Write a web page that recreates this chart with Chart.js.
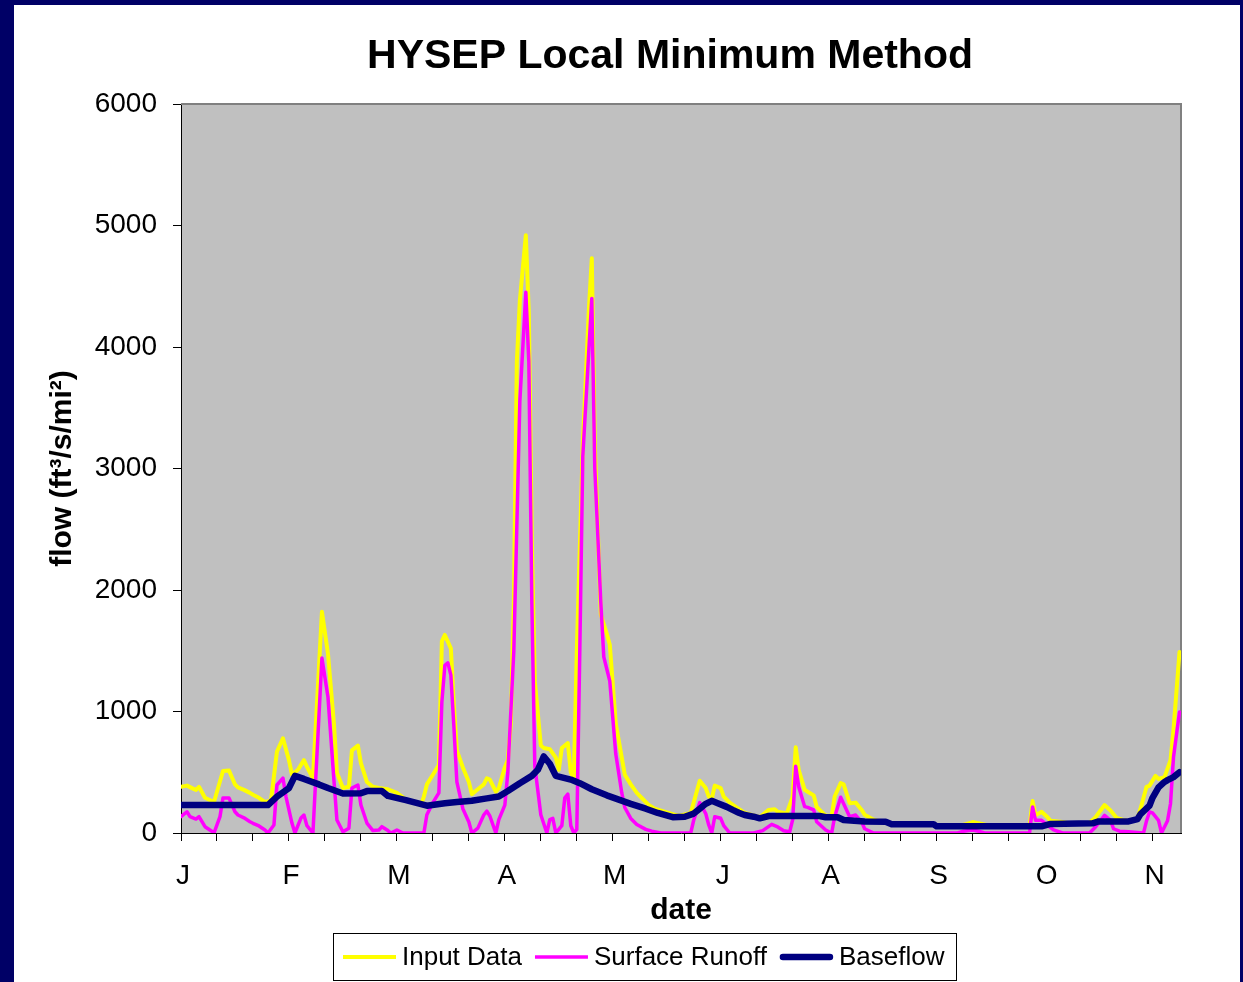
<!DOCTYPE html>
<html><head><meta charset="utf-8">
<script src="https://cdn.jsdelivr.net/npm/chart.js@4.4.1/dist/chart.umd.min.js"></script>
<style>
html,body{margin:0;padding:0;background:#000066;width:1243px;height:982px;overflow:hidden;}
#panel{position:absolute;left:14px;top:5px;width:1226px;height:977px;background:#ffffff;}
#c{position:absolute;left:0;top:0;}
</style></head><body>
<div id="panel"></div>
<canvas id="c" width="1243" height="982"></canvas>
<script>
// ---------- text ----------
const chartTitle = 'HYSEP Local Minimum Method';
const xAxisTitle = 'date';
const yAxisTitle = 'flow (ft³/s/mi²)';
const seriesNames = ['Input Data', 'Surface Runoff', 'Baseflow'];

// ---------- x axis (day index from 1 Jan) ----------
const tickLabels = ['J','F','M','A','M','J','A','S','O','N'];
const labelEveryDays = 36;
const tickEveryDays = 12;
const lastDay = 333.5;
const yTickValues = [0,1000,2000,3000,4000,5000,6000];

// ---------- series ----------
const inputDays = [0,2,4,5,6,8,11,14,16,18,19,21,23,24,26,28,30,32,34,36,37,39,41,42,44,47,49,51,52,54,56,57,59,60,62,64,66,69,72,75,80,81,82,84,86,87,88,90,91,92,94,96,97,99,101,102,103,105,106,108,109,110,111,112,113,115,116,117,118,120,121,123,125,126,127,129,130,131,132,134,136,137,138,140,142,143,145,147,148,150,152,154,156,158,162,166,170,173,175,176,177,178,180,181,183,185,188,193,194,196,198,199,202,204,205,206,208,209,211,212,213,215,217,218,220,221,223,225,227,228,231,233,237,251,252,259,262,264,266,269,271,283,284,285,287,289,290,294,296,303,305,308,310,312,314,316,319,320,322,323,325,326,328,330,331,332,333];
const inputFlow = [380,390,365,355,380,290,255,510,515,400,375,355,330,315,290,255,265,670,780,600,480,520,600,545,450,1820,1480,900,495,370,380,680,720,575,420,380,370,360,330,275,230,300,400,480,560,1580,1630,1520,1050,680,540,420,320,360,400,450,440,340,370,540,600,900,1900,3880,4380,4920,4280,2400,1250,720,700,690,620,520,700,740,500,450,1500,3200,4300,4730,3200,1800,1640,1550,900,620,480,400,330,280,230,200,170,140,165,430,370,300,280,390,370,300,250,215,165,130,150,190,195,175,160,300,705,520,355,340,310,215,190,145,140,300,410,400,245,250,190,150,110,95,80,72,55,55,75,90,80,65,55,55,263,145,175,130,100,90,80,85,130,230,185,125,110,100,120,200,380,390,470,445,460,600,850,1170,1490];

const runoffDays = [0,2,3,5,6,8,10,11,13,14,16,18,19,21,23,24,26,28,29,31,32,34,35,37,38,40,41,42,44,47,49,51,52,54,56,57,59,60,62,64,66,67,69,70,72,74,81,82,84,86,87,88,89,90,91,92,94,96,97,99,101,102,103,105,106,108,109,111,113,114,115,116,117,118,120,122,123,124,125,127,128,129,130,131,132,133,134,137,138,140,141,142,143,145,147,148,150,152,155,157,160,170,171,173,175,176,177,178,180,181,183,191,194,197,199,201,203,204,205,206,208,209,211,212,215,217,218,220,221,223,225,227,228,231,259,261,264,266,268,283,284,285,287,289,291,294,303,304,305,308,310,311,313,316,321,322,323,324,326,327,329,330,331,333];
const runoffFlow = [135,175,135,115,135,52,19,0,135,288,288,175,148,125,93,80,58,25,0,66,395,452,300,82,0,123,148,60,0,1440,1122,436,107,10,40,370,395,230,82,20,25,52,20,0,25,0,0,150,250,330,1080,1380,1400,1300,880,420,200,90,0,40,150,180,140,0,110,230,500,1500,3550,4000,4450,3880,1900,550,150,0,110,120,0,60,290,320,60,0,30,1500,3100,4400,3000,1900,1450,1350,1250,650,330,210,120,70,30,15,0,0,107,250,160,66,0,134,121,60,0,0,20,71,50,18,10,110,550,380,217,211,190,93,25,0,134,294,240,134,148,90,35,0,0,15,25,15,0,0,214,104,104,63,25,0,0,25,49,145,104,35,15,10,0,100,173,165,104,0,100,241,625,996];

const baseDays = [0,29,32,36,38,41,46,49,54,60,62,67,69,75,82,88,92,97,102,106,109,113,117,119,121,123,125,130,133,137,142,146,150,155,159,164,168,171,173,175,177,179,182,184,186,188,191,193,196,213,215,219,221,228,235,237,251,252,287,290,304,306,316,319,320,323,324,326,328,329,331,333];
const baseFlow = [230,230,300,370,470,445,400,370,325,327,345,345,305,270,225,245,255,265,285,300,345,410,470,520,630,570,470,440,410,360,310,275,240,200,165,130,134,160,200,240,265,245,215,190,167,148,134,121,140,140,130,130,107,95,93,72,72,55,55,75,80,95,95,115,155,225,290,375,420,435,460,500];

function pts(days, vals){ return days.map((d,i)=>({x:d, y:vals[i]})); }

const FONT = '"Liberation Sans", Arial, Helvetica, sans-serif';
Chart.defaults.font.family = FONT;
Chart.defaults.color = '#000';

const frame = {
  id:'frame',
  beforeDraw(chart){
    const {ctx, chartArea:a} = chart;
    ctx.save();
    ctx.fillStyle = '#C0C0C0';
    ctx.fillRect(a.left, a.top, a.right-a.left, a.bottom-a.top);
    ctx.restore();
  },
  beforeDatasetsDraw(chart){
    const {ctx, chartArea:a} = chart;
    ctx.save();
    ctx.strokeStyle = '#808080';
    ctx.lineWidth = 2;
    ctx.beginPath();
    ctx.moveTo(a.left, a.top);
    ctx.lineTo(a.right, a.top);
    ctx.lineTo(a.right, a.bottom);
    ctx.stroke();
    ctx.restore();
  },
  afterDraw(chart){
    const {ctx} = chart;
    ctx.save();
    // title
    ctx.fillStyle = '#000';
    ctx.font = 'bold 41px ' + FONT;
    ctx.textAlign = 'center';
    ctx.textBaseline = 'alphabetic';
    ctx.fillText(chartTitle, 670, 68);
    // legend
    ctx.strokeStyle = '#000';
    ctx.lineWidth = 1;
    ctx.strokeRect(333.5, 933.5, 623, 47);
    ctx.font = '26px ' + FONT;
    ctx.textAlign = 'left';
    ctx.textBaseline = 'middle';
    let x = 343;
    const y = 957;
    chart.data.datasets.forEach(ds => {
      ctx.strokeStyle = ds.borderColor;
      ctx.lineWidth = ds.borderWidth;
      ctx.lineCap = ds.legendCap;
      ctx.beginPath();
      ctx.moveTo(x + (ds.legendCap==='round'?3:0), y);
      ctx.lineTo(x + 53 - (ds.legendCap==='round'?3:0), y);
      ctx.stroke();
      ctx.fillStyle = '#000';
      ctx.fillText(ds.label, x + 59, y + 1);
      x += 59 + ctx.measureText(ds.label).width + 13;
    });
    ctx.restore();
  }
};

new Chart(document.getElementById('c'), {
  type: 'line',
  data: {
    datasets: [
      {label: seriesNames[0], data: pts(inputDays, inputFlow), borderColor:'#FFFF00', borderWidth:4, order:2, legendCap:'butt'},
      {label: seriesNames[1], data: pts(runoffDays, runoffFlow), borderColor:'#FF00FF', borderWidth:3.5, order:1, legendCap:'butt'},
      {label: seriesNames[2], data: pts(baseDays, baseFlow), borderColor:'#000080', borderWidth:6.5, order:0, legendCap:'round'}
    ]
  },
  options: {
    responsive:false, animation:false, devicePixelRatio:1,
    elements:{ point:{radius:0, hoverRadius:0}, line:{tension:0, borderJoinStyle:'round', borderCapStyle:'round', fill:false} },
    layout:{ padding:{left:45, top:104, right:62, bottom:53} },
    plugins:{ legend:{display:false}, title:{display:false}, tooltip:{enabled:false} },
    scales:{
      x:{
        type:'linear', min:0, max:lastDay,
        afterFit(s){ s.height = 96; },
        afterBuildTicks(s){
          const t = [];
          for (let v = 0; v <= lastDay; v += tickEveryDays) t.push({value:v});
          s.ticks = t;
        },
        ticks:{
          autoSkip:false, maxRotation:0, padding:18, labelOffset:2,
          font:{size:28},
          callback(v){ return (v % labelEveryDays === 0) ? (tickLabels[v/labelEveryDays] || '') : ''; }
        },
        grid:{ drawOnChartArea:false, drawTicks:true, tickLength:8, color:'#000' },
        border:{ display:true, color:'#000', width:1 },
        title:{ display:true, text:xAxisTitle, font:{size:30, weight:'bold'}, padding:0 }
      },
      y:{
        type:'linear', min:0, max:6000,
        afterFit(s){ s.width = 136; },
        afterBuildTicks(s){ s.ticks = yTickValues.map(v=>({value:v})); },
        ticks:{ padding:16, font:{size:28}, callback(v){ return String(v); } },
        grid:{ drawOnChartArea:false, drawTicks:true, tickLength:8, color:'#000' },
        border:{ display:true, color:'#000', width:1 },
        title:{ display:true, text:yAxisTitle, font:{size:30, weight:'bold'}, padding:0 }
      }
    }
  },
  plugins:[frame]
});
</script>
</body></html>
